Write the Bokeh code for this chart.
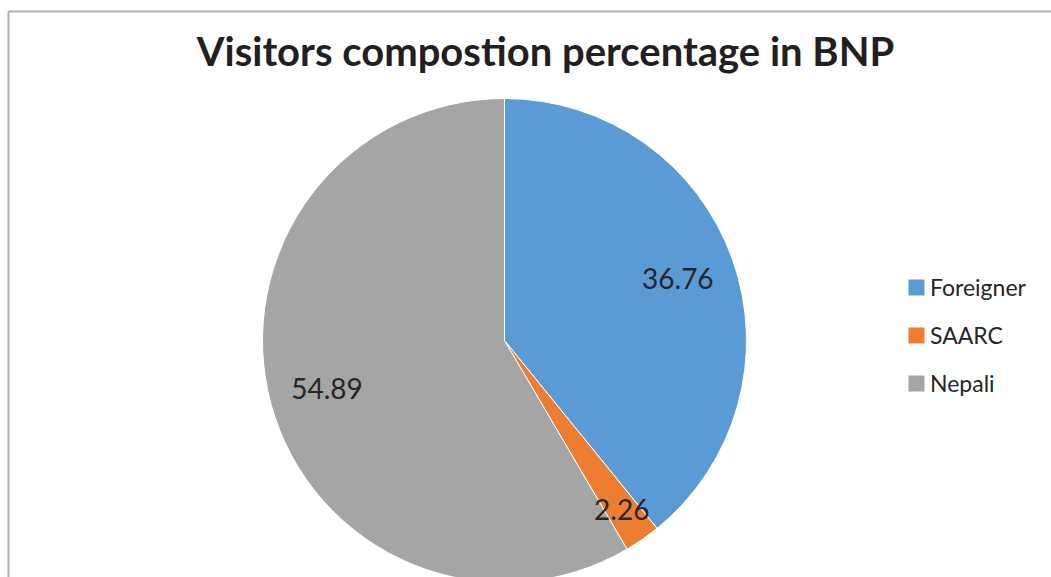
import math
from bokeh.plotting import figure
from bokeh.models import Range1d, ColumnDataSource, Legend, LegendItem
from bokeh.core.properties import value
from bokeh.embed import file_html
from bokeh.resources import INLINE

# ---- data ----
categories = ["Foreigner", "SAARC", "Nepali"]
values = [36.76, 2.26, 54.89]
colors = ["#5B9BD5", "#ED7D31", "#A5A5A5"]
title_text = "Visitors compostion percentage in BNP"

W, H = 1051, 577
p = figure(width=W, height=H, output_backend="svg", toolbar_location=None,
           x_range=Range1d(0, W), y_range=Range1d(0, H), min_border=0)
p.axis.visible = False
p.grid.visible = False
p.outline_line_color = None
p.background_fill_color = "white"
p.border_fill_color = "white"

# chart-area border (top and left visible)
p.segment(x0=[8, 8], y0=[H - 11, H - 11], x1=[W, 8], y1=[H - 11, -5],
          line_color="#b0b0b0", line_width=2)

# title
p.text(x=[545], y=[H - 50], text=[title_text], text_font=value("Lato"),
       text_font_style="bold", text_font_size="40px", text_color="#231f20",
       text_align="center", text_baseline="middle")

# pie
cx, cy, r = 504, H - 340, 242
total = sum(values)
starts, ends, mids = [], [], []
acc = 0.0
for v in values:
    a0 = math.pi / 2 - acc / total * 2 * math.pi
    acc += v
    a1 = math.pi / 2 - acc / total * 2 * math.pi
    starts.append(a0)
    ends.append(a1)
    mids.append((a0 + a1) / 2)

src = ColumnDataSource(dict(cat=categories, val=values, start=starts, end=ends, color=colors))
p.wedge(x=cx, y=cy, radius=r, start_angle="start", end_angle="end", direction="clock",
        fill_color="color", line_color="white", line_width=1, source=src)

# legend swatches (off-canvas rects used only as legend glyphs)
sw = ColumnDataSource(dict(x=[-500] * 3, y=[-500] * 3, color=colors))
rr = p.rect(x="x", y="y", width=1, height=1, fill_color="color", line_color=None, source=sw)

# data labels
label_r = [0.76, 0.85, 0.76]
lx = [cx + r * f * math.cos(m) for f, m in zip(label_r, mids)]
ly = [cy + r * f * math.sin(m) for f, m in zip(label_r, mids)]
p.text(x=lx, y=ly, text=[f"{v:.2f}" for v in values], text_font=value("Lato"),
       text_font_size="28px", text_color="#262626", text_align="center", text_baseline="middle")

# legend
legend = Legend(items=[LegendItem(label=c, renderers=[rr], index=i) for i, c in enumerate(categories)],
                location=(906, 577 - 397), orientation="vertical",
                glyph_width=20, glyph_height=20, label_text_font="Lato",
                label_text_font_size="23px", label_text_color="#262626",
                label_height=24, spacing=20, padding=0, margin=0, label_standoff=4,
                border_line_color=None, background_fill_alpha=0)
p.add_layout(legend, "center")

open("out.html", "w").write(file_html(p, INLINE))
